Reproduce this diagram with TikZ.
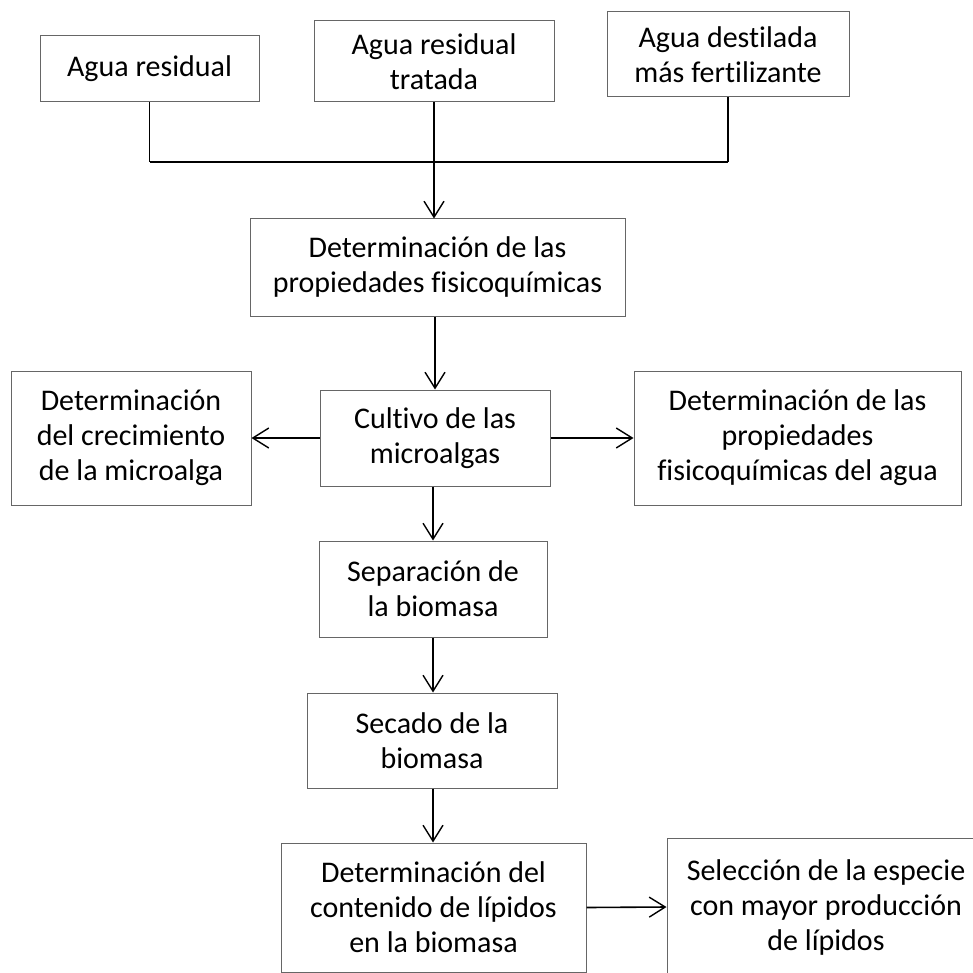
\documentclass[tikz,border=0pt]{standalone}
\usepackage{fontspec}
\setmainfont{Carlito}[RawFeature={-liga}]
\usetikzlibrary{arrows.meta}
\tikzset{
  box/.style={draw=black!60, line width=1pt, align=center, inner sep=0pt,
    font=\fontsize{30}{35}\selectfont, text=black},
  flow/.style={line width=1.6pt, -{Straight Barb[length=16pt,width=20pt,line width=1.4pt]}},
  link/.style={line width=1.6pt},
  bar/.style={line width=2.6pt},
}
\begin{document}
\begin{tikzpicture}[x=1pt,y=-1pt]
\useasboundingbox (0,0) rectangle (973,973);
\clip (0,0) rectangle (973,973);
\node[box, minimum width=219pt, minimum height=66pt] (A) at (149.5,69) {Agua residual};
\node[box, minimum width=240pt, minimum height=81pt] (B) at (434,61.5) {Agua residual\\tratada};
\node[box, minimum width=242pt, minimum height=85pt] (C) at (728,54.5) {Agua destilada\\más fertilizante};
\node[box, minimum width=375pt, minimum height=97pt] (D) at (437.5,267.5) {Determinación de las\\propiedades fisicoquímicas};
\node[box, minimum width=240pt, minimum height=134pt] (L) at (131,438) {Determinación\\del crecimiento\\de la microalga};
\node[box, minimum width=230pt, minimum height=96pt] (M) at (435,438) {Cultivo de las\\microalgas};
\node[box, minimum width=327pt, minimum height=134pt] (R) at (797.5,438) {Determinación de las\\propiedades\\fisicoquímicas del agua};
\node[box, minimum width=228pt, minimum height=96pt] (S) at (433,589) {Separación de\\la biomasa};
\node[box, minimum width=250pt, minimum height=95pt] (T) at (432,740.5) {Secado de la\\biomasa};
\node[box, minimum width=305pt, minimum height=129pt] (U) at (433.5,907.5) {Determinación del\\contenido de lípidos\\en la biomasa};
\node[box, minimum width=318pt, minimum height=138pt] (V) at (826,907) {Selección de la especie\\con mayor producción\\de lípidos};

\coordinate (ja) at (A.south |- 0,162);
\coordinate (jc) at (C.south |- 0,162);
\draw[link] (A.south) -- (ja);
\draw[link] (C.south) -- (jc);
\draw[bar] (ja) -- (jc);
\draw[flow] (B.south) -- (B.south |- D.north);
\draw[flow] (M.north |- D.south) -- (M.north);
\draw[flow] (M.west) -- (L.east);
\draw[flow, line width=2.4pt] (M.east) -- (R.west);
\draw[flow] (S.north |- M.south) -- (S.north);
\draw[flow] (S.south) -- (S.south |- T.north);
\draw[flow] (S.south |- T.south) -- (S.south |- U.north);
\draw[flow] (U.east) -- (V.west);
\end{tikzpicture}
\end{document}
